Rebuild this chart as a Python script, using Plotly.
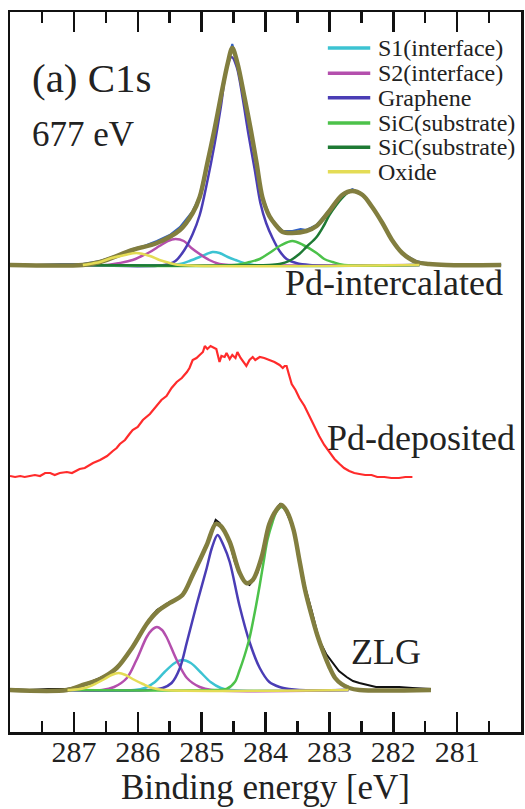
import plotly.graph_objects as go

FONT = "Times New Roman, Times, serif"

# ---------------- data: binding energy (eV) / intensity (arb. units) ----------------
# Pd-intercalated (top spectrum), intensities above its own baseline
TOP_OFFSET = 467
top_data_E = [288.00, 287.60, 287.20, 286.86, 286.59, 286.35, 286.08, 285.90, 285.70, 285.50, 285.34, 285.14,
              285.03, 284.91, 284.80, 284.70, 284.59, 284.52, 284.44, 284.33, 284.23, 284.14, 284.05, 283.94,
              283.84, 283.73, 283.58, 283.45, 283.36, 283.20, 283.00, 282.80, 282.64, 282.48, 282.33, 282.17,
              282.02, 281.86, 281.64, 281.44, 281.17, 280.80, 280.31]
top_data_I = [1, 0, 1, 1, 4, 9, 16, 19, 24, 30, 38, 54, 69, 103, 136, 170, 204, 221, 203, 167, 134, 101, 69, 50,
              41, 34, 34, 36, 35, 40, 55, 71, 76, 71, 58, 42, 26, 12, 4, 1, 0, 1, 0]
top_env_E = [288.00, 286.86, 286.59, 286.08, 285.70, 285.34, 285.14, 285.03, 284.91, 284.80, 284.70, 284.59,
             284.52, 284.44, 284.33, 284.23, 284.14, 284.05, 283.94, 283.84, 283.73, 283.58, 283.36, 283.20,
             283.00, 282.80, 282.64, 282.48, 282.33, 282.17, 282.02, 281.86, 281.64, 281.44, 281.17, 280.31]
top_env_I = [0, 0, 3, 15, 22, 35, 52, 68, 102, 135, 168, 202, 217, 202, 168, 135, 102, 68, 49, 40, 33, 32, 34,
             39, 54, 70, 74, 70, 58, 42, 25, 12, 3, 1, 0, 0]
top_s1_E = [286.86, 285.50, 285.34, 285.19, 285.03, 284.92, 284.83, 284.72, 284.59, 284.47, 284.34, 284.19, 281.59]
top_s1_I = [0, 0, 1, 4, 8, 11, 13, 12, 8, 5, 2, 0, 0]
top_s2_E = [286.86, 286.47, 286.28, 286.08, 285.94, 285.81, 285.66, 285.53, 285.41, 285.28, 285.16, 285.03,
            284.88, 284.72, 284.53, 281.59]
top_s2_I = [0, 0, 2, 5, 9, 13, 19, 24, 26, 24, 17, 11, 5, 1, 0, 0]
top_gr_E = [286.86, 285.58, 285.41, 285.27, 285.14, 285.03, 284.91, 284.80, 284.70, 284.61, 284.53, 284.45,
            284.36, 284.27, 284.17, 284.08, 283.99, 283.89, 283.78, 283.67, 283.52, 283.31, 281.59]
top_gr_I = [0, 0, 4, 15, 31, 50, 84, 120, 158, 196, 208, 198, 168, 132, 96, 62, 42, 27, 14, 6, 2, 0, 0]
top_sic1_E = [286.86, 284.48, 284.25, 284.09, 283.94, 283.75, 283.58, 283.41, 283.20, 283.08, 282.95, 282.77, 281.59]
top_sic1_I = [0, 0, 3, 6, 12, 20, 24, 20, 12, 6, 3, 0, 0]
top_sic2_E = [286.86, 283.94, 283.78, 283.63, 283.47, 283.36, 283.20, 283.09, 283.00, 282.89, 282.80, 282.72,
              282.64, 282.56, 282.48, 282.33, 282.17, 282.02, 281.86, 281.64, 281.59]
top_sic2_I = [0, 0, 1, 4, 11, 18, 28, 39, 50, 60, 67, 72, 74, 73, 70, 58, 42, 25, 12, 3, 2]
top_ox_E = [286.86, 286.75, 286.59, 286.41, 286.20, 286.02, 285.81, 285.66, 285.50, 285.34, 281.59]
top_ox_I = [0, 1, 3, 7, 10, 12, 9, 5, 2, 0, 0]

# Pd-deposited (middle spectrum), plotted intensity
mid_E = [288.00, 287.92, 287.84, 287.77, 287.69, 287.61, 287.53, 287.45, 287.37, 287.30, 287.22, 287.11, 287.03,
         286.91, 286.83, 286.70, 286.59, 286.48, 286.39, 286.33, 286.28, 286.20, 286.13, 286.08, 286.00, 285.92,
         285.81, 285.70, 285.63, 285.55, 285.47, 285.39, 285.31, 285.23, 285.19, 285.14, 285.08, 285.03, 284.98,
         284.95, 284.91, 284.86, 284.81, 284.77, 284.72, 284.69, 284.64, 284.61, 284.56, 284.52, 284.47, 284.44,
         284.39, 284.34, 284.30, 284.25, 284.20, 284.16, 284.09, 284.02, 283.94, 283.86, 283.78, 283.73, 283.70,
         283.67, 283.64, 283.59, 283.53, 283.47, 283.39, 283.31, 283.23, 283.16, 283.08, 283.00, 282.92, 282.84,
         282.77, 282.69, 282.61, 282.53, 282.44, 282.34, 282.25, 282.14, 282.03, 281.91, 281.81, 281.70]
mid_I = [256, 255, 256, 255, 256, 257, 256, 259, 259, 257, 259, 260, 259, 263, 264, 269, 272, 276, 281, 284, 288,
         292, 298, 302, 305, 312, 318, 326, 332, 336, 344, 350, 354, 360, 364, 372, 374, 377, 380, 386, 383, 386,
         384, 383, 370, 376, 375, 379, 373, 377, 374, 380, 374, 370, 366, 372, 375, 372, 375, 374, 372, 370, 367,
         364, 366, 366, 359, 348, 342, 334, 326, 315, 304, 296, 287, 280, 273, 268, 264, 261, 259, 258, 257, 257,
         255, 255, 254, 254, 255, 255]

# ZLG (bottom spectrum), intensities above its own baseline
BOT_OFFSET = 42
bot_data_E = [288.00, 287.70, 287.40, 287.11, 286.95, 286.86, 286.70, 286.59, 286.45, 286.33, 286.20, 286.08,
              285.95, 285.86, 285.78, 285.70, 285.60, 285.50, 285.40, 285.30, 285.22, 285.14, 285.03, 284.92,
              284.85, 284.78, 284.72, 284.65, 284.56, 284.48, 284.41, 284.33, 284.25, 284.20, 284.12, 284.06,
              283.99, 283.94, 283.83, 283.77, 283.70, 283.62, 283.56, 283.47, 283.38, 283.28, 283.16, 283.05,
              282.95, 282.85, 282.73, 282.63, 282.53, 282.40, 282.27, 282.10, 281.91, 281.70, 281.41]
bot_data_I = [1, 0, 1, 1, 3, 5, 9, 12, 16, 23, 32, 44, 58, 67, 74, 80, 84, 88, 90, 96, 104, 116, 131, 146, 158,
              170, 167, 160, 147, 128, 117, 108, 105, 109, 118, 134, 152, 165, 181, 186, 182, 170, 159, 131, 103,
              80, 50, 36, 27, 19, 13, 9, 7, 5, 3, 3, 3, 2, 1]
bot_env_E = [288.00, 287.11, 286.86, 286.59, 286.33, 286.08, 285.86, 285.70, 285.50, 285.30, 285.14, 284.92,
             284.78, 284.70, 284.56, 284.41, 284.30, 284.20, 284.06, 283.94, 283.83, 283.75, 283.66, 283.56,
             283.47, 283.38, 283.28, 283.19, 283.09, 283.00, 282.91, 282.81, 282.69, 282.53, 281.41]
bot_env_I = [0, 0, 5, 11, 22, 43, 66, 78, 87, 95, 115, 145, 166, 164, 148, 118, 107, 110, 133, 166, 180, 185,
             178, 160, 130, 100, 75, 55, 37, 23, 12, 6, 2, 0, 0]
bot_ox_E = [287.10, 287.06, 286.83, 286.67, 286.52, 286.41, 286.30, 286.19, 286.08, 285.92, 285.77, 285.58, 282.70]
bot_ox_I = [0, 0, 2, 6, 11, 15, 17, 15, 11, 6, 2, 0, 0]
bot_s2_E = [287.10, 286.56, 286.37, 286.17, 286.02, 285.86, 285.78, 285.70, 285.62, 285.55, 285.39, 285.23,
            285.03, 284.84, 282.70]
bot_s2_I = [0, 0, 3, 12, 30, 53, 60, 63, 60, 53, 30, 12, 3, 0, 0]
bot_s1_E = [287.10, 286.05, 285.89, 285.73, 285.58, 285.42, 285.30, 285.17, 285.02, 284.86, 284.70, 284.55, 282.70]
bot_s1_I = [0, 0, 2, 8, 18, 27, 30, 27, 18, 8, 2, 0, 0]
bot_gr_E = [287.10, 285.81, 285.61, 285.47, 285.34, 285.23, 285.08, 284.92, 284.84, 284.75, 284.66, 284.56,
            284.41, 284.25, 284.09, 283.94, 283.78, 283.63, 283.47, 282.70]
bot_gr_I = [0, 0, 2, 7, 22, 48, 85, 122, 142, 155, 145, 128, 85, 48, 22, 8, 3, 1, 0, 0]
bot_sic_E = [287.10, 284.80, 284.61, 284.48, 284.41, 284.33, 284.25, 284.17, 284.09, 284.03, 283.97, 283.89,
             283.83, 283.75, 283.66, 283.56, 283.47, 283.38, 283.28, 283.19, 283.09, 283.00, 282.91, 282.81, 282.70]
bot_sic_I = [0, 0, 1, 8, 19, 34, 52, 77, 105, 128, 150, 168, 178, 183, 178, 160, 130, 100, 75, 55, 37, 23, 12, 6, 3]

x_tick_vals = [287, 286, 285, 284, 283, 282, 281]
x_minor_vals = [287.5, 286.5, 285.5, 284.5, 283.5, 282.5, 281.5, 280.5]

legend_names = ["S1(interface)", "S2(interface)", "Graphene", "SiC(substrate)", "SiC(substrate)", "Oxide"]
C_S1, C_S2, C_GR, C_SIC1, C_SIC2, C_OX = "#3cc3d2", "#b44fad", "#4a3db5", "#4cc24a", "#1e7a34", "#e4dc55"
legend_colors = [C_S1, C_S2, C_GR, C_SIC1, C_SIC2, C_OX]
C_ENV = "#827e3f"

fig = go.Figure()


def add(E, I, offset, color, width, name, spline=True):
    fig.add_trace(go.Scatter(
        x=E, y=[offset + v for v in I], mode="lines", name=name, showlegend=False,
        line=dict(color=color, width=width, shape="spline" if spline else "linear", smoothing=0.9),
        hoverinfo="skip"))


# top spectrum
add(top_data_E, top_data_I, TOP_OFFSET, "#2f5fc4", 2, "data (Pd-intercalated)", spline=False)
add(top_s1_E, top_s1_I, TOP_OFFSET, C_S1, 2.5, "S1(interface)")
add(top_s2_E, top_s2_I, TOP_OFFSET, C_S2, 2.5, "S2(interface)")
add(top_gr_E, top_gr_I, TOP_OFFSET, C_GR, 2.5, "Graphene")
add(top_sic1_E, top_sic1_I, TOP_OFFSET, C_SIC1, 2.5, "SiC(substrate)")
add(top_sic2_E, top_sic2_I, TOP_OFFSET, C_SIC2, 2.5, "SiC(substrate)")
add(top_env_E, top_env_I, TOP_OFFSET, C_ENV, 4.5, "Fit envelope")
add(top_ox_E, top_ox_I, TOP_OFFSET, C_OX, 2.5, "Oxide")

# middle spectrum
add(mid_E, mid_I, 0, "#ff2b2b", 2.2, "Pd-deposited", spline=False)

# bottom spectrum
add(bot_data_E, bot_data_I, BOT_OFFSET, "#111111", 2, "data (ZLG)", spline=False)
add(bot_s1_E, bot_s1_I, BOT_OFFSET, C_S1, 2.5, "S1(interface)")
add(bot_s2_E, bot_s2_I, BOT_OFFSET, C_S2, 2.5, "S2(interface)")
add(bot_gr_E, bot_gr_I, BOT_OFFSET, C_GR, 2.5, "Graphene")
add(bot_sic_E, bot_sic_I, BOT_OFFSET, C_SIC1, 2.5, "SiC(substrate)")
add(bot_env_E, bot_env_I, BOT_OFFSET, C_ENV, 4.5, "Fit envelope")
add(bot_ox_E, bot_ox_I, BOT_OFFSET, C_OX, 2.5, "Oxide")

# compact legend (drawn by hand to match the tight row spacing)
shapes = []
annotations = []
row_y = [0.950, 0.915, 0.881, 0.846, 0.812, 0.778]
for name, col, yy in zip(legend_names, legend_colors, row_y):
    shapes.append(dict(type="line", xref="paper", yref="paper", x0=0.622, x1=0.705, y0=yy, y1=yy,
                       line=dict(color=col, width=3.5)))
    annotations.append(dict(xref="paper", yref="paper", x=0.716, y=yy, xanchor="left", yanchor="middle",
                            text=name, showarrow=False, font=dict(family=FONT, size=24, color="#222")))

text_labels = [
    ("(a) C1s", 0.040, 0.909, "left", 41),
    ("677 eV", 0.040, 0.830, "left", 35),
    ("Pd-intercalated", 0.968, 0.623, "right", 36),
    ("Pd-deposited", 0.992, 0.408, "right", 36),
    ("ZLG", 0.664, 0.111, "left", 36),
]
for txt, xx, yy, anc, sz in text_labels:
    annotations.append(dict(xref="paper", yref="paper", x=xx, y=yy, xanchor=anc, yanchor="middle",
                            text=txt, showarrow=False, font=dict(family=FONT, size=sz, color="#222")))

# x-axis title
annotations.append(dict(xref="paper", yref="paper", x=0.5, y=-0.0765, xanchor="center", yanchor="middle",
                        text="Binding energy [eV]", showarrow=False,
                        font=dict(family=FONT, size=35, color="#222")))

fig.update_layout(
    width=525, height=809,
    margin=dict(l=10, r=4, t=12, b=77, autoexpand=False),
    paper_bgcolor="white", plot_bgcolor="white",
    showlegend=False,
    shapes=shapes, annotations=annotations,
    font=dict(family=FONT, color="#222"),
)
fig.update_xaxes(
    range=[288, 280], showgrid=False, zeroline=False, automargin=False,
    showline=True, linecolor="#111", linewidth=2.5, mirror="ticks",
    ticks="inside", ticklen=20, tickwidth=2.5, tickcolor="#111",
    tickmode="array", tickvals=x_tick_vals, ticktext=[str(v) for v in x_tick_vals],
    tickfont=dict(family=FONT, size=30, color="#222"),
    ticklabelstandoff=-9,
    minor=dict(tickmode="array", tickvals=x_minor_vals, ticks="inside", ticklen=11, tickwidth=2.5,
               tickcolor="#111", showgrid=False),
)
fig.update_yaxes(
    range=[0, 720], showgrid=False, zeroline=False, showticklabels=False, ticks="", automargin=False,
    showline=True, linecolor="#111", linewidth=2.5, mirror=True,
)

fig.write_html("out.html",
               config={"displayModeBar": False, "staticPlot": True},
               post_script="document.body.style.margin='0';document.body.style.overflow='hidden';")
